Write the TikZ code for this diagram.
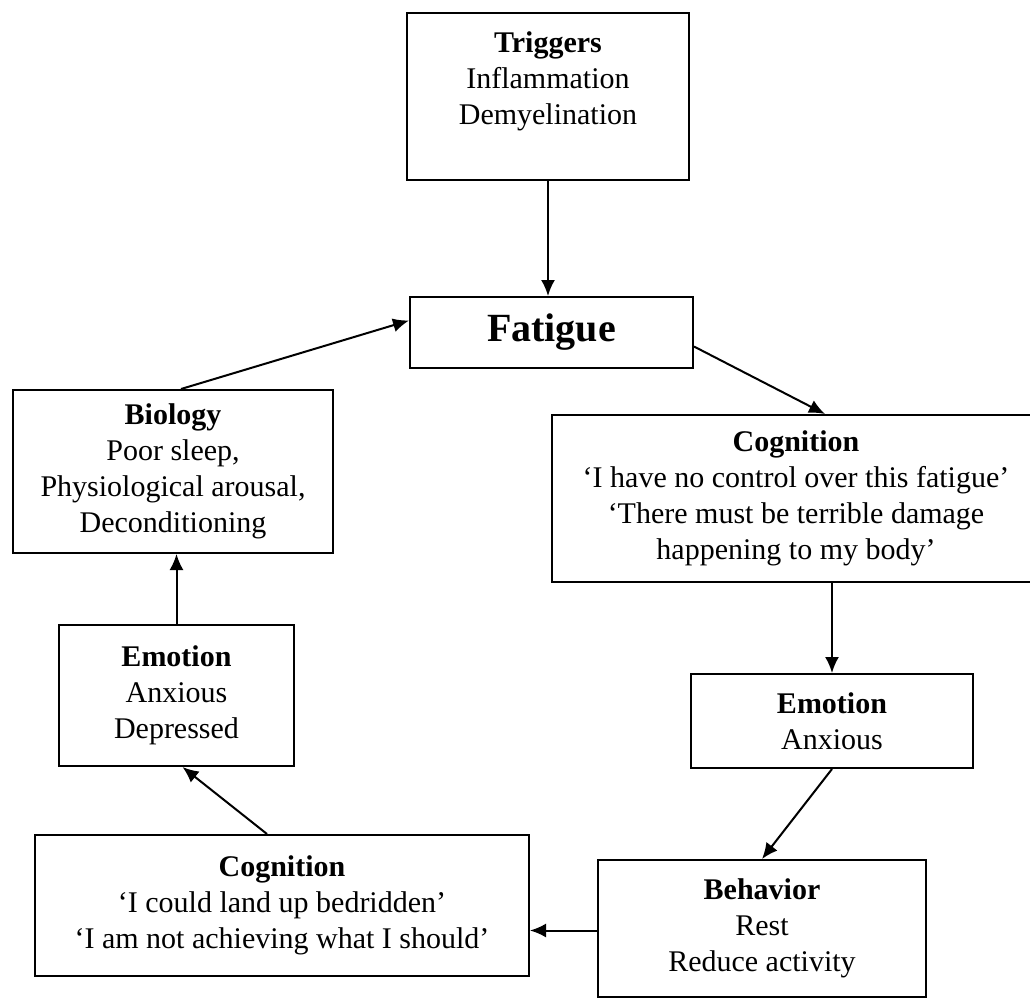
\documentclass[tikz,border=0pt]{standalone}
\usepackage{fontspec}
\setmainfont{Liberation Serif}
\usetikzlibrary{arrows.meta, positioning}

\begin{document}
\begin{tikzpicture}[x=0.5pt, y=-0.5pt,
    box/.style={draw, line width=1pt, rectangle, align=center, inner sep=2pt,
        font=\fontsize{15}{18}\selectfont},
    flow/.style={-{Latex[length=8pt, width=7pt]}, line width=1pt}]
    \useasboundingbox (0,0) rectangle (1030,998);

    % Boxes
    \node[box, minimum width=141pt, minimum height=83.5pt] (trig) at (548,96.5)
        {\textbf{Triggers}\\Inflammation\\Demyelination\\\mbox{}};
    \node[box, minimum width=141.5pt, minimum height=35.5pt,
        font=\fontsize{20}{22}\selectfont\bfseries] (fat) at (551.5,332.5) {Fatigue};
    \node[box, minimum width=160pt, minimum height=81.5pt] (bio) at (173,471.5)
        {\textbf{Biology}\\Poor sleep,\\Physiological arousal,\\Deconditioning};
    \node[box, minimum width=244pt, minimum height=83.5pt] (cogR) at (796,498.5)
        {\textbf{Cognition}\\`I have no control over this fatigue'\\`There must be terrible damage\\happening to my body'};
    \node[box, minimum width=117.5pt, minimum height=70.5pt] (emoL) at (176.5,695.5)
        {\textbf{Emotion}\\Anxious\\Depressed};
    \node[box, minimum width=141pt, minimum height=47pt] (emoR) at (832,721)
        {\textbf{Emotion}\\Anxious};
    \node[box, minimum width=247pt, minimum height=70.5pt] (cogL) at (282,905.5)
        {\textbf{Cognition}\\`I could land up bedridden'\\`I am not achieving what I should'};
    \node[box, minimum width=164pt, minimum height=68.5pt] (beh) at (762,928.5)
        {\textbf{Behavior}\\Rest\\Reduce activity};

    % Cycle
    \draw[flow] (trig.south) -- (trig.south |- fat.north);
    \draw[flow] ([yshift=-7pt]fat.east) -- ([xshift=14.5pt]cogR.north);
    \draw[flow] (cogR.south -| emoR.north) -- (emoR.north);
    \draw[flow] (emoR.south) -- (beh.north);
    \draw[flow] ([yshift=-1pt]beh.west) -- ([yshift=-1pt]beh.west -| cogL.east);
    \draw[flow] ([xshift=-7.5pt]cogL.north) -- ([xshift=3pt]emoL.south);
    \draw[flow] (emoL.north) -- (emoL.north |- bio.south);
    \draw[flow] ([xshift=4pt]bio.north) -- ([yshift=6pt]fat.west);
\end{tikzpicture}
\end{document}
